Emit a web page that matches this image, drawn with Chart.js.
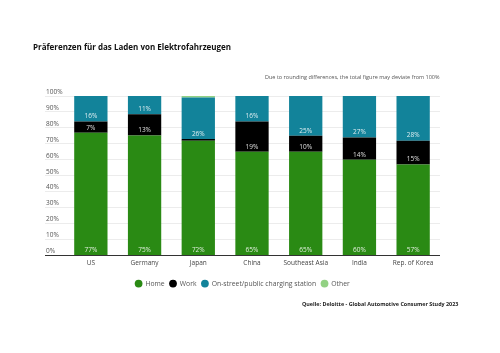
<!DOCTYPE html>
<html>
<head>
<meta charset="utf-8">
<script src="https://cdn.jsdelivr.net/npm/chart.js@4"></script>
<style>
  body { margin: 0; background: #fff; font-family: "Open Sans", sans-serif; }
  #wrap { position: relative; width: 500px; height: 353px; }
  #title { position: absolute; left: 33px; top: 41px; font-size: 8px; font-weight: bold; color: #111; white-space: nowrap; }
  #note { position: absolute; left: 265px; top: 73px; font-size: 5.5px; color: #555; white-space: nowrap; }
  #source { position: absolute; left: 302px; top: 300px; font-size: 5.4px; font-weight: bold; color: #222; white-space: nowrap; }
</style>
</head>
<body>
<div id="wrap">
  <canvas id="chart" width="500" height="353"></canvas>
  <div id="title">Präferenzen für das Laden von Elektrofahrzeugen</div>
  <div id="note">Due to rounding differences, the total figure may deviate from 100%</div>
  <div id="source">Quelle: Deloitte - Global Automotive Consumer Study 2023</div>
</div>
<script>
// chart data (segment heights, labels are rounded)
var regions = ['US', 'Germany', 'Japan', 'China', 'Southeast Asia', 'India', 'Rep. of Korea'];
var home = [77, 75.2, 72, 65, 65, 60, 57];
var work = [7, 13.4, 1, 19, 10, 14, 15];
var publicStation = [16, 11.4, 26, 16, 25, 27, 28];
var other = [0, 0, 1, 0, 0, 0, 0];
var yTicks = [0, 10, 20, 30, 40, 50, 60, 70, 80, 90, 100];

// white percentage labels near the bottom of each segment
var segmentLabels = {
    id: 'segmentLabels',
    afterDatasetsDraw: function(chart) {
        var ctx = chart.ctx;
        ctx.save();
        ctx.font = '6.5px "Open Sans"';
        ctx.fillStyle = 'rgba(255,255,255,0.85)';
        ctx.textAlign = 'center';
        ctx.textBaseline = 'middle';
        for (var d = 0; d < 3; d++) {
            var meta = chart.getDatasetMeta(d);
            var values = chart.data.datasets[d].data;
            meta.data.forEach(function(bar, i) {
                if (values[i] < 5) return;
                ctx.fillText(Math.round(values[i]) + '%', bar.x, bar.base - 5);
            });
        }
        ctx.restore();
    }
};

new Chart(document.getElementById('chart').getContext('2d'), {
    type: 'bar',
    data: {
        labels: regions,
        datasets: [
            { label: 'Home', data: home, backgroundColor: '#2a8a14' },
            { label: 'Work', data: work, backgroundColor: '#000000' },
            { label: 'On-street/public charging station', data: publicStation, backgroundColor: '#12839a' },
            { label: 'Other', data: other, backgroundColor: '#92d183' }
        ]
    },
    options: {
        responsive: false,
        animation: false,
        categoryPercentage: 1,
        barPercentage: 0.62,
        layout: { padding: { left: 45, right: 60, top: 96, bottom: 56 } },
        plugins: {
            legend: {
                position: 'bottom',
                labels: {
                    usePointStyle: true,
                    pointStyle: 'circle',
                    boxWidth: 7,
                    boxHeight: 5.5,
                    padding: 5,
                    color: '#555',
                    font: { family: 'Open Sans', size: 6.8 }
                }
            },
            tooltip: { enabled: false }
        },
        scales: {
            x: {
                stacked: true,
                grid: { display: false, drawTicks: false },
                border: { display: false },
                ticks: { color: '#444', padding: 4, font: { family: 'Open Sans', size: 6.5 } },
                afterFit: function(scale) { scale.height += 4; }
            },
            y: {
                stacked: true,
                min: 0,
                max: 100,
                afterBuildTicks: function(scale) {
                    scale.ticks = yTicks.map(function(v) { return { value: v }; });
                },
                afterFit: function(scale) { scale.width = 19; },
                border: { display: false },
                grid: {
                    color: function(c) { return c.tick && c.tick.value === 0 ? '#333' : '#ececec'; },
                    tickLength: 19
                },
                ticks: {
                    mirror: true,
                    padding: -18,
                    labelOffset: -4,
                    color: '#555',
                    font: { family: 'Open Sans', size: 6.5 },
                    callback: function(v) { return v + '%'; }
                }
            }
        }
    },
    plugins: [segmentLabels]
});
</script>
</body>
</html>
